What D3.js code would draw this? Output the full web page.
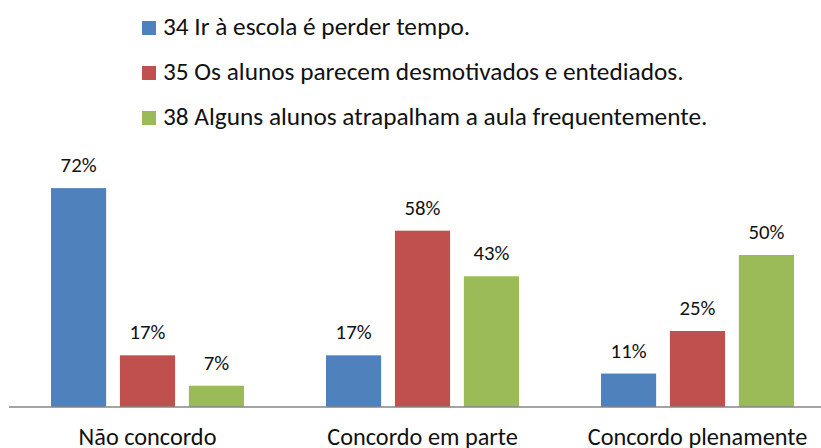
<!DOCTYPE html>
<html>
<head>
<meta charset="utf-8">
<script src="https://cdn.jsdelivr.net/npm/d3@7"></script>
<style>
  html, body { margin: 0; padding: 0; background: #fff; }
  svg { display: block; }
  text { font-family: Carlito, Calibri, Lato, sans-serif; fill: #111; }
</style>
</head>
<body>
<svg id="chart" width="821" height="448"></svg>
<script>
const categories = ["Não concordo", "Concordo em parte", "Concordo plenamente"];
const seriesNames = [
  "34 Ir à escola é perder tempo.",
  "35 Os alunos parecem desmotivados e entediados.",
  "38 Alguns alunos atrapalham a aula frequentemente."
];
const seriesColors = ["#4F81BD", "#C0504D", "#9BBB59"];
const values34 = [0.72, 0.17, 0.11];
const values35 = [0.17, 0.58, 0.25];
const values38 = [0.07, 0.43, 0.50];
const seriesValues = [values34, values35, values38];

const W = 821, H = 448;
const LEGEND_FONT = 25.3, CAT_FONT = 24.3, VAL_FONT = 20.8;
const svg = d3.select("#chart");

const x0 = d3.scaleBand().domain(categories).range([10, 835]).paddingInner(0).paddingOuter(0);
const x1 = d3.scaleBand().domain(d3.range(seriesNames.length))
  .range([41, x0.bandwidth() - 41]).paddingInner(0.2).paddingOuter(0);
const y = d3.scaleLinear().domain([0, 1]).range([407, 103]);

const fmt = d3.format(".0%");

// bars
const groups = svg.append("g").selectAll("g")
  .data(categories).join("g")
  .attr("transform", d => `translate(${x0(d)},0)`);

groups.each(function(cat, ci) {
  const g = d3.select(this);
  const data = seriesValues.map((vals, si) => ({si, v: vals[ci]}));
  g.selectAll("rect").data(data).join("rect")
    .attr("x", d => x1(d.si))
    .attr("width", x1.bandwidth())
    .attr("y", d => y(d.v))
    .attr("height", d => y(0) - y(d.v))
    .attr("fill", d => seriesColors[d.si]);
  g.selectAll("text.val").data(data).join("text")
    .attr("class", "val")
    .attr("x", d => x1(d.si) + x1.bandwidth() / 2)
    .attr("y", d => y(d.v) - 16)
    .attr("text-anchor", "middle")
    .style("font-size", VAL_FONT + "px")
    .text(d => fmt(d.v));
});

// axis
const xAxis = d3.axisBottom(x0).tickSize(0).tickPadding(0);
const axisG = svg.append("g").attr("transform", `translate(0,${y(0)})`).call(xAxis);
axisG.select(".domain").remove();
axisG.append("line")
  .attr("x1", 9).attr("x2", W).attr("y1", 0).attr("y2", 0)
  .attr("stroke", "#868686").attr("stroke-width", 1.5);
axisG.selectAll(".tick text")
  .attr("y", 38).attr("dy", null)
  .style("font-size", CAT_FONT + "px")
  .style("font-family", "Carlito, Calibri, Lato, sans-serif")
  .attr("fill", "#111");

// legend
const legendY = d3.scalePoint().domain(d3.range(seriesNames.length)).range([35, 125]);
const leg = svg.append("g").selectAll("g")
  .data(seriesNames).join("g")
  .attr("transform", (d, i) => `translate(142,${legendY(i)})`);
leg.append("rect")
  .attr("x", 0).attr("y", -14).attr("width", 14).attr("height", 14)
  .attr("fill", (d, i) => seriesColors[i]);
leg.append("text")
  .attr("x", 21).attr("y", 0)
  .style("font-size", LEGEND_FONT + "px")
  .text(d => d);
</script>
</body>
</html>
